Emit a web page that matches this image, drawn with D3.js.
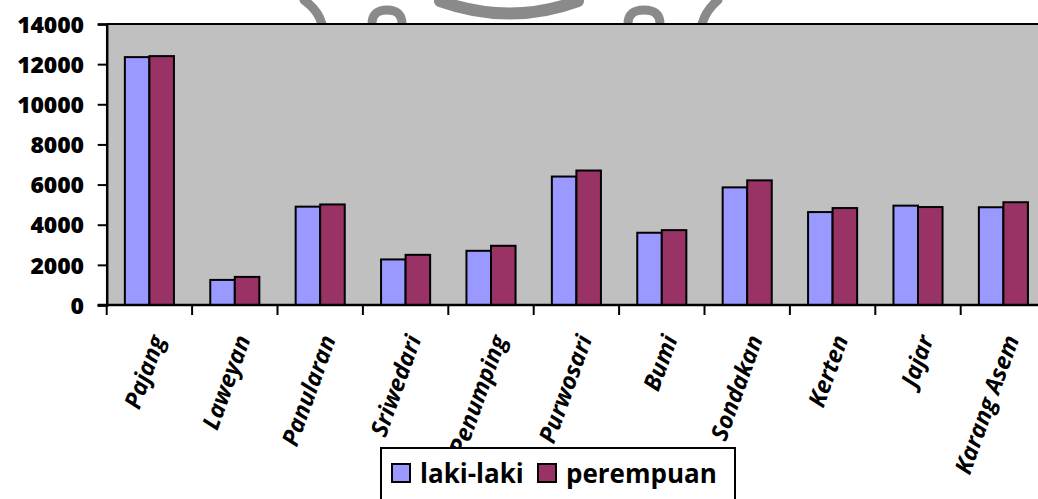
<!DOCTYPE html>
<meta charset="utf-8">
<style>
body { margin: 0; background: #fff; font-family: 'Open Sans', sans-serif; }
svg { display: block; }
.ytick text { font-family: 'Open Sans', sans-serif; font-weight: 800; font-size: 23px; letter-spacing: -0.2px; }
.xlab { font-weight: 700; font-style: italic; font-size: 23.5px; }
.legend text { font-weight: 700; font-size: 26px; }
</style>
<body>
<svg class="chart"></svg>
<script src="https://d3js.org/d3.v7.min.js"></script>
<script>
// kelurahan (categories)
let kelurahan = ['Pajang','Laweyan','Panularan','Sriwedari','Penumping','Purwosari','Bumi','Sondakan','Kerten','Jajar','Karang Asem'];

// population by sex
let lakiLaki  = [12350, 1250, 4900, 2270, 2700, 6400, 3600, 5860, 4630, 4950, 4870];
let perempuan = [12400, 1400, 5010, 2500, 2950, 6700, 3730, 6210, 4830, 4880, 5120];

let seriesNames = ['laki-laki','perempuan'];
let colorCode = ['#9999FF','#993366'];

let yTicks = [0,2000,4000,6000,8000,10000,12000,14000];

let rwidth = 1038, rheight = 499;
let margin = {top:24, left:106.7, bottom:194};
let bandW = 85.4;
let plotBottom = rheight - margin.bottom;   // 305

let svg = d3.select('.chart').attr('width', rwidth).attr('height', rheight);

// faint watermark at the top (logo showing through)
let wm = svg.append('g').attr('fill','none').attr('stroke','#8a8a8a').attr('stroke-linecap','round');
wm.append('path').attr('d','M440,1 Q510,26 578,1').attr('stroke-width',12);
wm.append('path').attr('d','M372,24 Q372,10 387,10 Q402,10 402,24').attr('stroke-width',9);
wm.append('path').attr('d','M628,24 Q628,10 644,10 Q660,10 660,24').attr('stroke-width',9);
wm.append('path').attr('d','M304,0 Q318,10 322,24').attr('stroke-width',9);
wm.append('path').attr('d','M718,0 Q706,10 702,24').attr('stroke-width',9);

let xscale = d3.scaleBand().domain(kelurahan)
    .range([margin.left, margin.left + bandW * kelurahan.length]).paddingInner(0).paddingOuter(0);
let inner = d3.scaleBand().domain(seriesNames).range([0, bandW]).paddingInner(0).paddingOuter(0.74);
let yscale = d3.scaleLinear().domain([0,14000]).range([plotBottom, margin.top]);
let color = d3.scaleOrdinal().domain(seriesNames).range(colorCode);

// plot background
svg.append('rect')
    .attr('x', margin.left).attr('y', margin.top)
    .attr('width', bandW * kelurahan.length).attr('height', plotBottom - margin.top)
    .attr('fill', '#C0C0C0');
svg.append('line')
    .attr('x1', margin.left).attr('x2', rwidth).attr('y1', margin.top).attr('y2', margin.top)
    .attr('stroke', '#000').attr('stroke-width', 2);

let rows = kelurahan.map((k,i) => ({name:k, values:[lakiLaki[i], perempuan[i]]}));

let groups = svg.selectAll('.grp').data(rows).join('g')
    .attr('class','grp')
    .attr('transform', d => `translate(${xscale(d.name)},0)`);

groups.selectAll('rect')
    .data(d => d.values.map((v,j) => ({s:seriesNames[j], v:v})))
    .join('rect')
    .attr('x', d => inner(d.s))
    .attr('width', inner.bandwidth())
    .attr('y', d => yscale(d.v))
    .attr('height', d => plotBottom - yscale(d.v))
    .attr('fill', d => color(d.s))
    .attr('stroke', '#000')
    .attr('stroke-width', 2);

// y axis
let yaxis = svg.append('g').attr('class','yaxis').attr('transform', `translate(${margin.left},0)`)
    .call(d3.axisLeft(yscale).tickValues(yTicks).tickSize(9).tickPadding(14).tickFormat(d3.format('d')));
yaxis.select('.domain').attr('stroke-width', 2.5);
yaxis.selectAll('.tick line').attr('stroke-width', 2);
yaxis.selectAll('.tick').attr('class','ytick');
yaxis.selectAll('text').attr('fill','#000').attr('dy','0.36em');

// x axis: ticks sit on band edges
let edges = kelurahan.map(k => xscale(k)).concat([xscale(kelurahan[kelurahan.length-1]) + bandW]);
svg.append('line')
    .attr('x1', margin.left - 9).attr('x2', rwidth)
    .attr('y1', plotBottom).attr('y2', plotBottom)
    .attr('stroke','#000').attr('stroke-width', 2.5);
svg.selectAll('.xtick').data(edges).join('line')
    .attr('class','xtick')
    .attr('x1', d => d).attr('x2', d => d)
    .attr('y1', plotBottom).attr('y2', plotBottom + 10)
    .attr('stroke','#000').attr('stroke-width', 2);

// rotated category labels
svg.selectAll('.xlab').data(kelurahan).join('text')
    .attr('class','xlab')
    .attr('text-anchor','end')
    .attr('transform', d => `translate(${xscale(d) + bandW/2 + 16},${plotBottom + 34}) rotate(-70)`)
    .text(d => d);

// legend
let legend = svg.append('g').attr('class','legend');
legend.append('rect')
    .attr('x', 381).attr('y', 448).attr('width', 354).attr('height', 70)
    .attr('fill', '#fff').attr('stroke', '#000').attr('stroke-width', 2);
let legX = [392, 538];
seriesNames.forEach((s,i) => {
    legend.append('rect')
        .attr('x', legX[i]).attr('y', 464).attr('width', 18).attr('height', 18)
        .attr('fill', color(s)).attr('stroke','#000').attr('stroke-width', 2);
    legend.append('text')
        .attr('x', legX[i] + 28).attr('y', 483)
        .text(s);
});
</script>
</body>
